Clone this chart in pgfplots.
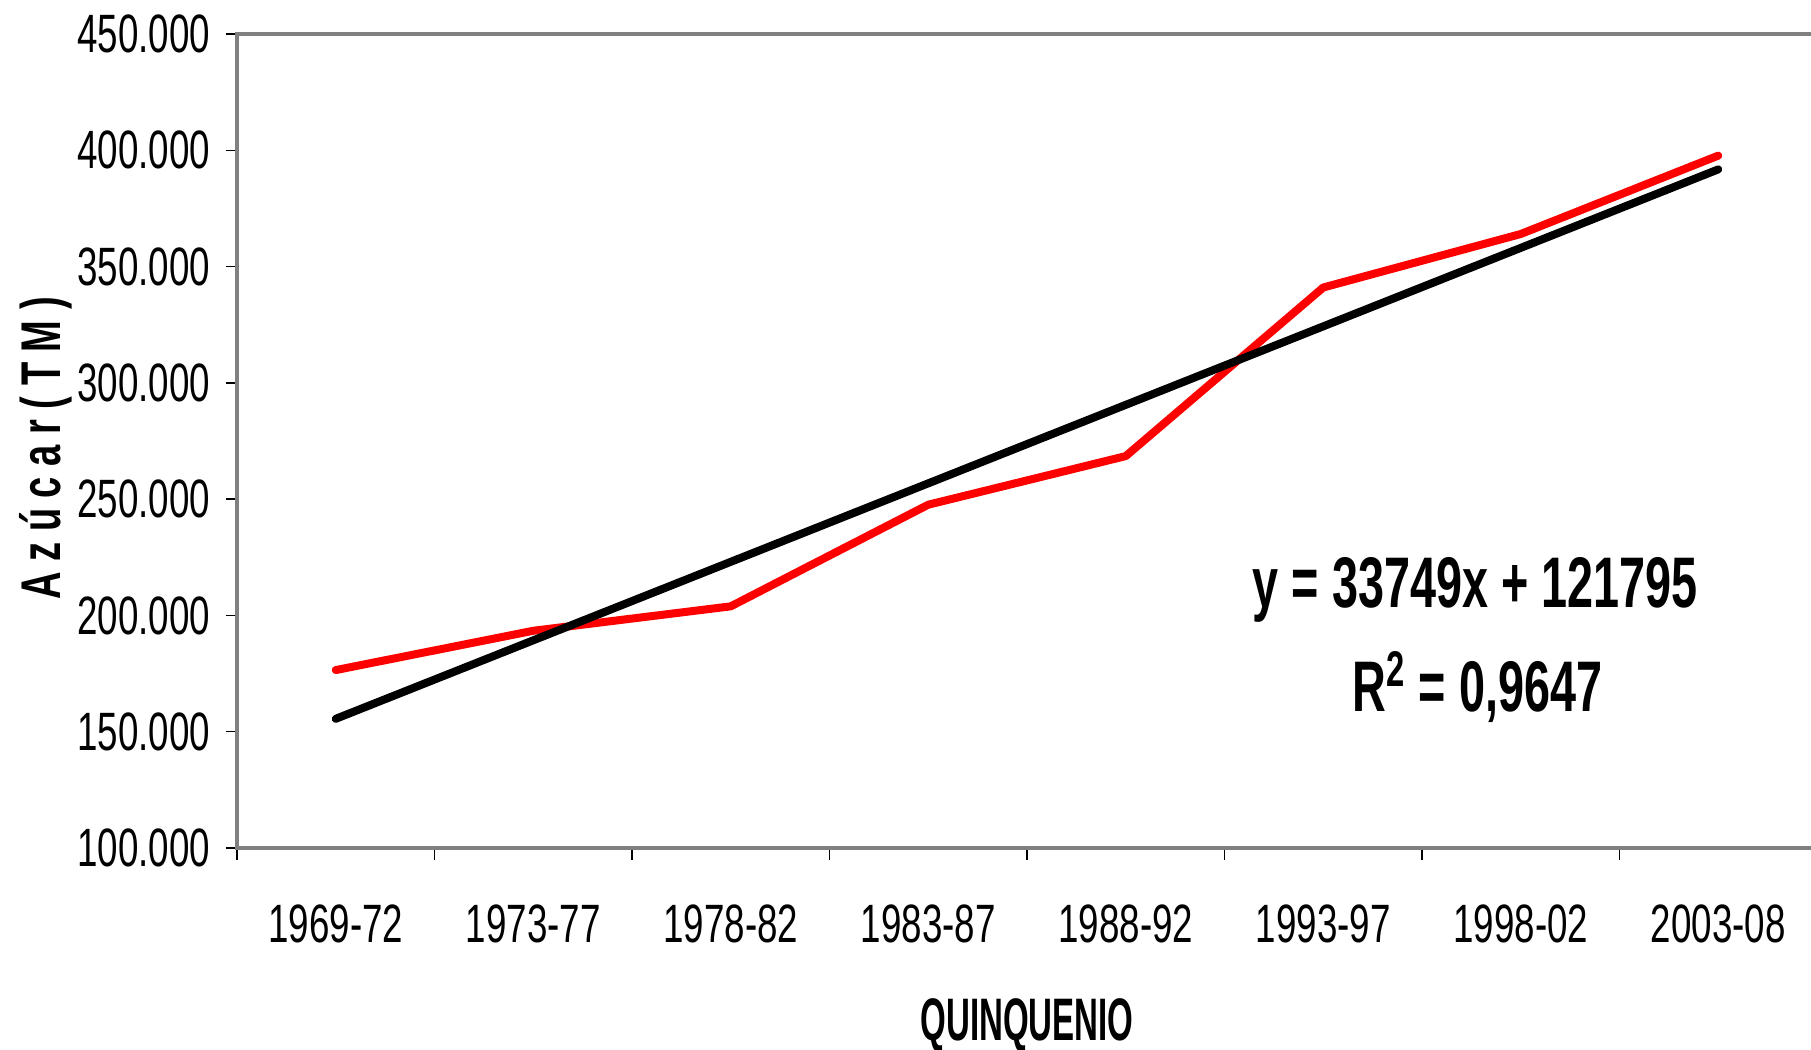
\documentclass[border=0pt]{standalone}
\usepackage{fontspec}
\setmainfont{Liberation Sans}[FakeStretch=0.68]
\usepackage{graphicx}
\usepackage{pgfplots}
\pgfplotsset{compat=1.18}
\usetikzlibrary{calc}
\definecolor{axisgray}{RGB}{128,128,128}

\begin{document}
\begin{tikzpicture}
\begin{axis}[
    scale only axis,
    width=474pt, height=244.2pt,
    xmin=-0.5, xmax=7.5,
    ymin=100000, ymax=450000,
    scaled y ticks=false,
    axis line style={axisgray, line width=1.2pt},
    tick align=outside,
    xtick pos=bottom, ytick pos=left,
    xtick={0,...,7},
    xticklabels={1969-72,1973-77,1978-82,1983-87,1988-92,1993-97,1998-02,2003-08},
    minor xtick={-0.5,0.5,...,7.5},
    major x tick style={draw=none},
    minor x tick style={black, line width=0.45pt},
    minor tick length=3.6pt,
    ytick={100000,150000,...,450000},
    yticklabels={100.000,150.000,200.000,250.000,300.000,350.000,400.000,450.000},
    major y tick style={black, line width=0.45pt},
    major tick length=3.3pt,
    tick label style={font=\fontsize{16.2}{18}\selectfont, inner sep=0pt},
    xticklabel style={anchor=center, yshift=-19.4pt},
    yticklabel style={anchor=east, xshift=-4.6pt},
    every axis x label/.style={at={(axis description cs:0.5,-0.2185)}, anchor=center},
    every axis y label/.style={at={(axis description cs:-0.1209,0.491)}, rotate=90, anchor=center},
    xlabel={\fontsize{18}{20}\selectfont\bfseries\scalebox{0.81}[1]{QUINQUENIO}},
    ylabel={\fontsize{16.8}{18}\selectfont\bfseries A z ú c a r ( T M )},
    clip=false,
]
\addplot[color=red, line width=2.4pt, line cap=round, line join=round] coordinates {
    (0,176500) (1,193400) (2,203900) (3,247600) (4,268500) (5,341000) (6,364000) (7,397700)
};
\addplot[color=black, line width=2.4pt, line cap=round, line join=round] coordinates {
    (0,155544) (1,189293) (2,223042) (3,256791) (4,290540) (5,324289) (6,358038) (7,391787)
};
\node[font=\fontsize{21.5}{24}\selectfont\bfseries] at (axis cs:5.77,211000) {\scalebox{0.96}[1]{y = 33749x + 121795}};
\node[font=\fontsize{21.5}{24}\selectfont\bfseries] at (axis cs:5.78,169200) {\scalebox{0.96}[1]{R\textsuperscript{2} = 0,9647}};
\coordinate (bl) at (rel axis cs:0,0);
\coordinate (tl) at (rel axis cs:0,1);
\end{axis}
\pgfresetboundingbox
\path ($(bl)+(-71.1pt,-60.6pt)$) rectangle ($(tl)+(472.2pt,10.2pt)$);
\end{tikzpicture}
\end{document}
